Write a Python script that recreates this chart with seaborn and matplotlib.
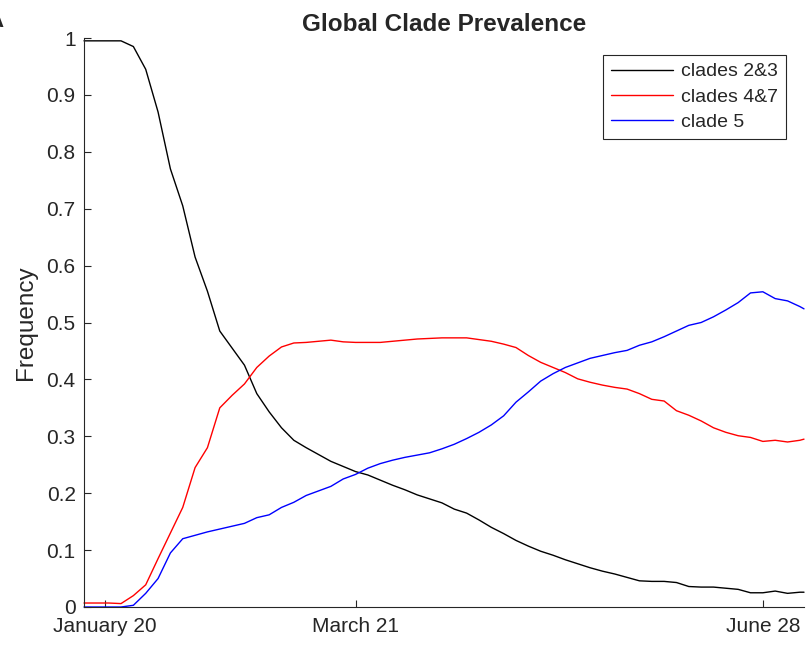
import matplotlib.pyplot as plt
import pandas as pd
import seaborn as sns

# days counted from January 20, 2020 (sampled every 3 days from the curves)
start = pd.Timestamp("2020-01-20")
days = list(range(-5, 170, 3)) + [170]

clades_2_3 = [
    0.995, 0.995, 0.995, 0.995, 0.985, 0.945, 0.87, 0.77, 0.705, 0.615,
    0.555, 0.485, 0.455, 0.425, 0.375, 0.343, 0.315, 0.293, 0.28, 0.268,
    0.256, 0.247, 0.238, 0.232, 0.223, 0.214, 0.206, 0.197, 0.19, 0.183,
    0.172, 0.165, 0.153, 0.14, 0.129, 0.117, 0.107, 0.098, 0.091, 0.083,
    0.076, 0.069, 0.063, 0.058, 0.052, 0.046, 0.045, 0.045, 0.043, 0.036,
    0.035, 0.035, 0.033, 0.031, 0.025, 0.025, 0.028, 0.024, 0.026, 0.026,
]
clades_4_7 = [
    0.007, 0.007, 0.007, 0.006, 0.02, 0.039, 0.085, 0.13, 0.175, 0.245,
    0.28, 0.35, 0.372, 0.392, 0.421, 0.441, 0.457, 0.464, 0.465, 0.467,
    0.469, 0.466, 0.465, 0.465, 0.465, 0.467, 0.469, 0.471, 0.472, 0.473,
    0.473, 0.473, 0.47, 0.467, 0.462, 0.456, 0.442, 0.43, 0.421, 0.412,
    0.401, 0.395, 0.39, 0.386, 0.383, 0.375, 0.365, 0.362, 0.345, 0.337,
    0.327, 0.315, 0.307, 0.301, 0.298, 0.291, 0.293, 0.29, 0.293, 0.295,
]
clade_5 = [
    0.0, 0.0, 0.0, 0.0, 0.003, 0.024, 0.05, 0.095, 0.12, 0.126,
    0.132, 0.137, 0.142, 0.147, 0.157, 0.162, 0.175, 0.184, 0.196, 0.204,
    0.212, 0.225, 0.233, 0.244, 0.252, 0.258, 0.263, 0.267, 0.271, 0.278,
    0.286, 0.296, 0.307, 0.32, 0.336, 0.36, 0.378, 0.397, 0.41, 0.421,
    0.429, 0.437, 0.442, 0.447, 0.451, 0.46, 0.466, 0.475, 0.485, 0.495,
    0.5, 0.51, 0.522, 0.535, 0.552, 0.554, 0.542, 0.538, 0.528, 0.524,
]

series_names = ["clades 2&3", "clades 4&7", "clade 5"]
series_colors = ["black", "red", "blue"]
tick_dates = ["2020-01-20", "2020-03-21", "2020-06-28"]
tick_labels = ["January 20", "March 21", "June 28"]
y_ticks = [0, 0.1, 0.2, 0.3, 0.4, 0.5, 0.6, 0.7, 0.8, 0.9, 1]

sns.set_theme(style="ticks")
plt.rcParams["font.family"] = ["Liberation Sans", "DejaVu Sans"]
axis_color = "#262626"

dates = start + pd.to_timedelta(days, unit="D")
frames = []
for name, vals in zip(series_names, [clades_2_3, clades_4_7, clade_5]):
    frames.append(pd.DataFrame({"date": dates, "freq": vals, "clade": name}))
df = pd.concat(frames, ignore_index=True)

fig = plt.figure(figsize=(8.08, 6.49), dpi=100)
ax = fig.add_axes([84 / 808, 42 / 649, 720 / 808, 569 / 649])

sns.lineplot(
    data=df, x="date", y="freq", hue="clade", hue_order=series_names,
    palette=dict(zip(series_names, series_colors)), linewidth=1.0, ax=ax,
)
for line in ax.lines:
    line.set_clip_on(False)

ax.set_xlim(dates[0], dates[-1])
ax.set_ylim(0, 1)
ax.set_xticks(pd.to_datetime(tick_dates))
ax.set_xticklabels(tick_labels)
ax.set_yticks(y_ticks)
ax.set_yticklabels([f"{v:g}" for v in y_ticks])
ax.tick_params(direction="in", length=5, width=0.8, color=axis_color,
               labelcolor=axis_color, labelsize=15)
ax.tick_params(axis="x", pad=7)
ax.tick_params(axis="y", pad=6)

for side in ["top", "right"]:
    ax.spines[side].set_visible(False)
for side in ["left", "bottom"]:
    ax.spines[side].set_color(axis_color)
    ax.spines[side].set_linewidth(0.8)

ax.set_xlabel("")
ax.set_ylabel("Frequency", fontsize=17.5, color=axis_color, labelpad=7)
ax.set_title("Global Clade Prevalence", fontsize=17.5, fontweight="bold", pad=5)

handles, labels = ax.get_legend_handles_labels()
leg = ax.legend(
    handles, labels, loc="upper right", bbox_to_anchor=(0.975, 0.97),
    borderaxespad=0, fancybox=False, framealpha=1, edgecolor=axis_color,
    fontsize=14, handlelength=3.2, handletextpad=0.4, labelspacing=0.4,
    borderpad=0.4,
)
leg.get_frame().set_linewidth(0.8)

# panel letter, cut off at the left edge as in the source figure
fig.text(0.005, 0.967, "A", ha="right", va="center", fontsize=16, fontweight="bold")

fig.savefig("out.png", dpi=100)
plt.close(fig)
